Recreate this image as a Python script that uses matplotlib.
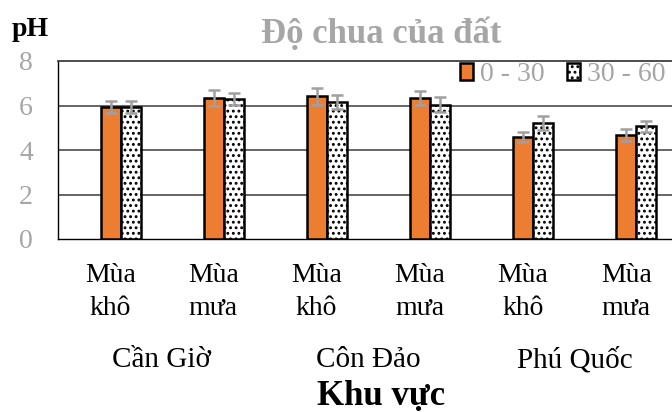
import matplotlib
matplotlib.use('Agg')
import matplotlib.pyplot as plt
import matplotlib.transforms as mtransforms

plt.rcParams['font.family'] = ['Liberation Serif', 'DejaVu Serif']
plt.rcParams['hatch.linewidth'] = 1.3

# pH by site and season, two soil depths (cm)
regions = ['Cần Giờ', 'Côn Đảo', 'Phú Quốc']
seasons = ['khô', 'mưa']
depth_labels = ['0 - 30', '30 - 60']
ph_0_30 = [5.95, 6.34, 6.41, 6.34, 4.58, 4.68]
ph_30_60 = [5.95, 6.31, 6.16, 6.04, 5.21, 5.06]
err_0_30 = [0.27, 0.34, 0.38, 0.33, 0.24, 0.27]
err_30_60 = [0.27, 0.27, 0.30, 0.34, 0.30, 0.26]
yticks = [0, 2, 4, 6, 8]

orange = '#ED7D31'
grey_text = '#A6A6A6'
grey_err = '#A0A0A0'

W, H = 672, 412
fig = plt.figure(figsize=(W / 100, H / 100), dpi=100)
ax = fig.add_axes([58 / W, (H - 239) / H, (699 - 58) / W, (239 - 61) / H])

n = len(ph_0_30)
x = list(range(n))
bw = 0.194

ax.bar([i - bw / 2 for i in x], ph_0_30, bw, color=orange, edgecolor='black',
       linewidth=1.8, label=depth_labels[0], zorder=3)
ax.bar([i + bw / 2 for i in x], ph_30_60, bw, color='white', edgecolor='black',
       hatch='...', linewidth=1.8, label=depth_labels[1], zorder=3)
ax.errorbar([i - bw / 2 for i in x], ph_0_30, yerr=err_0_30, fmt='none',
            ecolor=grey_err, elinewidth=1.8, capsize=4, capthick=1.8, zorder=4)
ax.errorbar([i + bw / 2 for i in x], ph_30_60, yerr=err_30_60, fmt='none',
            ecolor=grey_err, elinewidth=1.8, capsize=4, capthick=1.8, zorder=4)

ax.set_xlim(-0.606, n - 1 + 0.606)
ax.set_ylim(0, 8)
ax.set_yticks(yticks)
ax.tick_params(axis='y', length=0, pad=18, labelsize=20, labelcolor=grey_text)
ax.set_xticks([])
for v in yticks[1:-1]:
    ax.axhline(v, color='#595959', linewidth=1.3, zorder=1)
for side in ['left', 'bottom']:
    ax.spines[side].set_color('black')
    ax.spines[side].set_linewidth(1.0)
ax.spines['top'].set_color('#404040')
ax.spines['top'].set_linewidth(1.3)
ax.spines['right'].set_visible(False)

# category labels under the axis, offsets in pixels below y = 0
trans = mtransforms.blended_transform_factory(ax.transData, ax.transAxes)
px = 1.0 / (239 - 61)
shift = -0.1
for i in x:
    ax.text(i + shift, -(282 - 239) * px, 'Mùa', transform=trans, ha='center',
            va='baseline', fontsize=20, clip_on=False)
    ax.text(i + shift, -(315 - 239) * px, seasons[i % 2], transform=trans,
            ha='center', va='baseline', fontsize=20, clip_on=False)
for g, name in enumerate(regions):
    ax.text(2 * g + 0.5 + shift, -(367 - 239) * px, name, transform=trans,
            ha='center', va='baseline', fontsize=21, clip_on=False)
ax.text(2.52, -(405 - 239) * px, 'Khu vực', transform=trans, ha='center',
        va='baseline', fontsize=25, fontweight='bold', clip_on=False)

fig.text(381 / W, 1 - 43 / H, 'Độ chua của đất', ha='center', va='baseline',
         fontsize=25, fontweight='bold', color=grey_text)
fig.text(12 / W, 1 - 36 / H, 'pH', ha='left', va='baseline',
         fontsize=20, fontweight='bold', color='black')

leg = ax.legend(ncol=2, loc='upper left', bbox_to_anchor=(460 / W, 1 - 62 / H),
                bbox_transform=fig.transFigure, frameon=False, fontsize=20,
                handlelength=0.47, handleheight=0.55, handletextpad=0.25,
                columnspacing=0.8, borderpad=0, borderaxespad=0)
for t in leg.get_texts():
    t.set_color(grey_text)

fig.savefig('out.png', dpi=100)
